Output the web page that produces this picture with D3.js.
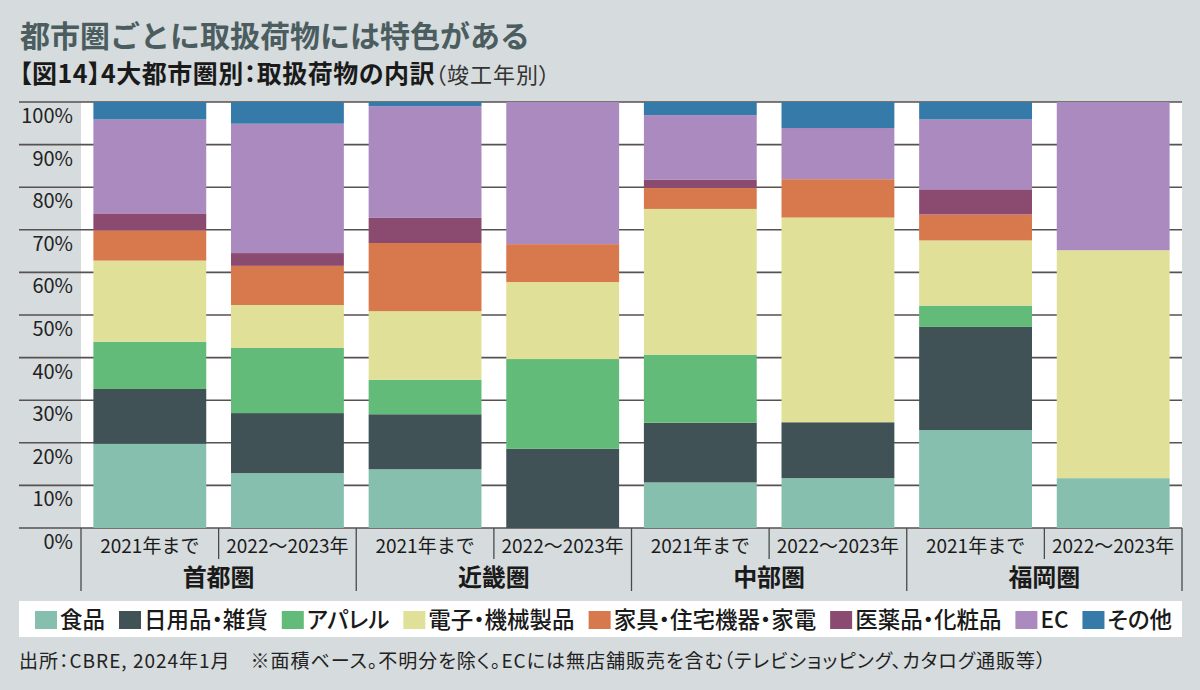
<!DOCTYPE html>
<html>
<head>
<meta charset="utf-8">
<script src="https://cdn.jsdelivr.net/npm/d3@7"></script>
<style>
  body { margin: 0; background: #d6dbdd; }
  svg { display: block; font-family: "Noto Sans CJK JP", "Noto Sans", sans-serif; }
  .palt { font-feature-settings: "palt" 1; }
</style>
</head>
<body>
<div id="chart"></div>
<script>
// regions and periods, bars go in this order
const regions = ['首都圏', '近畿圏', '中部圏', '福岡圏'];
const periods = ['2021年まで', '2022〜2023年'];

const categories = ['食品', '日用品・雑貨', 'アパレル', '電子・機械製品', '家具・住宅機器・家電', '医薬品・化粧品', 'EC', 'その他'];
const colors = ['#86bfae', '#405256', '#62bb78', '#e1e098', '#d8794d', '#8b4a6f', '#ab8abf', '#357aa8'];

// % share per bar (首都圏 21, 首都圏 22-23, 近畿圏 21, 近畿圏 22-23, 中部圏 21, 中部圏 22-23, 福岡圏 21, 福岡圏 22-23)
const food      = [19.8, 12.9, 13.8, 0,    10.7, 11.7, 23.0, 11.7];
const daily     = [12.9, 14.1, 12.9, 18.6, 14.0, 13.1, 24.2, 0];
const apparel   = [11.1, 15.3, 8.1,  21.1, 16.0, 0,    5.0,  0];
const electro   = [19.1, 10.1, 16.1, 18.1, 34.2, 48.0, 15.3, 53.5];
const furniture = [7.1,  9.2,  16.0, 8.9,  4.9,  9.0,  6.1,  0];
const medicine  = [4.0,  3.0,  5.9,  0,    2.0,  0,    5.9,  0];
const ec        = [22.1, 30.4, 26.2, 33.4, 15.1, 12.0, 16.4, 34.8];
const other     = [4.1,  5.1,  1.0,  0,    3.1,  6.1,  4.1,  0];
const series = [food, daily, apparel, electro, furniture, medicine, ec, other];

const yTicks = [0, 10, 20, 30, 40, 50, 60, 70, 80, 90, 100];

const width = 1200, height = 690;
const plot = { left: 81, right: 1182, top: 102, bottom: 528 };

const svg = d3.select('#chart').append('svg')
  .attr('width', width)
  .attr('height', height);

svg.append('rect').attr('width', width).attr('height', height).attr('fill', '#d6dbdd');

// titles
svg.append('text')
  .attr('x', 20).attr('y', 47)
  .attr('font-size', 30).attr('font-weight', 700)
  .attr('fill', '#4b5d5f')
  .text('都市圏ごとに取扱荷物には特色がある');

const sub = svg.append('text')
  .attr('class', 'palt')
  .attr('x', 19).attr('y', 83)
  .attr('fill', '#1a1a1a');
sub.append('tspan').attr('font-size', 25).attr('font-weight', 700).attr('letter-spacing', 0.5)
  .text('【図14】4大都市圏別：取扱荷物の内訳');
sub.append('tspan').attr('font-size', 22).attr('font-weight', 400).attr('letter-spacing', 1).attr('fill', '#333')
  .text('（竣工年別）');

// table of bars
const bars = [];
regions.forEach(r => periods.forEach(p => bars.push({ key: r + '|' + p, region: r, period: p })));
bars.forEach((b, i) => categories.forEach((c, j) => { b[c] = series[j][i]; }));

const x = d3.scaleBand()
  .domain(bars.map(d => d.key))
  .range([plot.left, plot.right])
  .paddingInner(0.18)
  .paddingOuter(0.09);

const y = d3.scaleLinear()
  .domain([0, 1])
  .range([plot.bottom, plot.top]);

const stack = d3.stack()
  .keys(categories)
  .offset(d3.stackOffsetExpand);
const stacked = stack(bars);

// white plot area
svg.append('rect')
  .attr('x', plot.left).attr('y', plot.top)
  .attr('width', plot.right - plot.left)
  .attr('height', plot.bottom - plot.top)
  .attr('fill', '#fff');

// gridlines + y labels
const grid = svg.append('g');
grid.selectAll('line')
  .data(yTicks)
  .join('line')
  .attr('x1', 19).attr('x2', plot.right)
  .attr('y1', d => y(d / 100)).attr('y2', d => y(d / 100))
  .attr('stroke', '#57514f')
  .attr('stroke-width', 1.6);

grid.selectAll('text')
  .data(yTicks)
  .join('text')
  .attr('x', 73)
  .attr('y', d => y(d / 100) + 21)
  .attr('text-anchor', 'end')
  .attr('font-size', 20)
  .attr('fill', '#222')
  .text(d => d + '%');

// bars
svg.append('g')
  .selectAll('g')
  .data(stacked)
  .join('g')
  .attr('fill', (d, i) => colors[i])
  .selectAll('rect')
  .data(d => d)
  .join('rect')
  .attr('x', d => x(d.data.key))
  .attr('y', d => y(d[1]))
  .attr('width', x.bandwidth())
  .attr('height', d => y(d[0]) - y(d[1]));

// x axis as a little table
const step = x.step();
const axis = svg.append('g');
const lineColor = '#4a4a4a';

regions.forEach((r, gi) => {
  const x0 = x(bars[gi * 2].key) - x.step() * x.paddingOuter();
  axis.append('line')
    .attr('x1', x0).attr('x2', x0)
    .attr('y1', plot.bottom).attr('y2', 591)
    .attr('stroke', lineColor).attr('stroke-width', 1.3);
  axis.append('line')
    .attr('x1', x0 + step).attr('x2', x0 + step)
    .attr('y1', plot.bottom).attr('y2', 559)
    .attr('stroke', lineColor).attr('stroke-width', 1.3);
  axis.append('text')
    .attr('x', x0 + step)
    .attr('y', 586)
    .attr('text-anchor', 'middle')
    .attr('font-size', 24).attr('font-weight', 700)
    .attr('fill', '#1a1a1a')
    .text(r);
});
axis.append('line')
  .attr('x1', plot.right).attr('x2', plot.right)
  .attr('y1', plot.bottom).attr('y2', 591)
  .attr('stroke', lineColor).attr('stroke-width', 1.3);

axis.selectAll('text.period')
  .data(bars)
  .join('text')
  .attr('class', 'period')
  .attr('x', d => x(d.key) + x.bandwidth() / 2)
  .attr('y', 553)
  .attr('text-anchor', 'middle')
  .attr('font-size', 19)
  .attr('fill', '#1a1a1a')
  .text(d => d.period);

// legend
svg.append('rect')
  .attr('x', 19).attr('y', 601)
  .attr('width', plot.right - 19).attr('height', 36)
  .attr('fill', '#fff');

const legend = svg.append('g').attr('class', 'palt');
let lx = 35;
categories.forEach((c, i) => {
  legend.append('rect')
    .attr('x', lx).attr('y', 611)
    .attr('width', 22).attr('height', 18)
    .attr('fill', colors[i]);
  const t = legend.append('text')
    .attr('x', lx + 25).attr('y', 628)
    .attr('font-size', 22.5).attr('font-weight', 500)
    .attr('fill', '#1a1a1a')
    .text(c);
  lx += 25 + t.node().getComputedTextLength() + 14;
});

// source note
svg.append('text')
  .attr('class', 'palt')
  .attr('x', 19).attr('y', 668)
  .attr('font-size', 19)
  .attr('letter-spacing', 1)
  .attr('fill', '#222')
  .text('出所：CBRE, 2024年1月　※面積ベース。不明分を除く。ECには無店舗販売を含む（テレビショッピング、カタログ通販等）');
</script>
</body>
</html>
